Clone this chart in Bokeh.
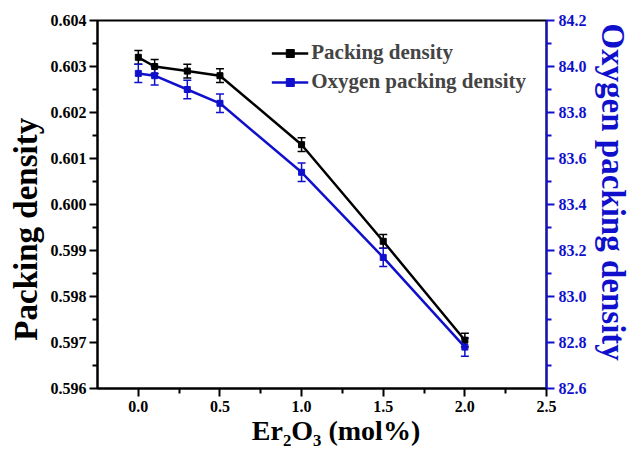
import numpy as np
from bokeh.plotting import figure
from bokeh.models import (Range1d, LinearAxis, FixedTicker, NumeralTickFormatter,
                          Whisker, ColumnDataSource, Legend, LegendItem, TeeHead)
from bokeh.embed import file_html
from bokeh.resources import INLINE

# Er2O3 content (mol%)
er2o3 = [0.0, 0.1, 0.3, 0.5, 1.0, 1.5, 2.0]
# packing density (left axis) and its error
packing = [0.6032, 0.6030, 0.6029, 0.6028, 0.6013, 0.5992, 0.59705]
packing_err = [0.00015, 0.00015, 0.00015, 0.00015, 0.00015, 0.00015, 0.00015]
# oxygen packing density (right axis) and its error
oxygen = [83.97, 83.96, 83.90, 83.84, 83.54, 83.17, 82.78]
oxygen_err = [0.04, 0.04, 0.04, 0.04, 0.04, 0.04, 0.04]

x_ticks = [0.0, 0.5, 1.0, 1.5, 2.0, 2.5]
left_ticks = [0.596, 0.597, 0.598, 0.599, 0.600, 0.601, 0.602, 0.603, 0.604]
right_ticks = [82.6, 82.8, 83.0, 83.2, 83.4, 83.6, 83.8, 84.0, 84.2]

FONT = "Liberation Serif"
BLACK = "#000000"
BLUE = "#1010CC"
NBSP = "\u00a0"


def midpoints(t):
    return [(a + b) / 2 for a, b in zip(t[:-1], t[1:])]


p = figure(width=633, height=450, output_backend="svg", toolbar_location=None,
           x_range=Range1d(-0.25, 2.5), y_range=Range1d(0.596, 0.604),
           min_border_left=97, min_border_right=86, min_border_top=20,
           min_border_bottom=62)
p.extra_y_ranges = {"oxy": Range1d(82.6, 84.2)}
p.grid.visible = False
p.outline_line_color = BLACK
p.outline_line_width = 2
p.background_fill_color = "white"
p.border_fill_color = "white"


def style_axis(ax, color, label_size):
    ax.axis_line_color = color
    ax.axis_line_width = 2
    ax.major_tick_line_color = color
    ax.major_tick_line_width = 2
    ax.minor_tick_line_color = color
    ax.minor_tick_line_width = 2
    ax.major_tick_in = 0
    ax.major_tick_out = 8
    ax.minor_tick_in = 0
    ax.minor_tick_out = 5
    ax.major_label_text_font = FONT
    ax.major_label_text_font_style = "bold"
    ax.major_label_text_font_size = "16px"
    ax.major_label_text_color = color
    ax.axis_label_text_font = FONT
    ax.axis_label_text_font_style = "bold"
    ax.axis_label_text_font_size = label_size
    ax.axis_label_text_color = color


# bottom axis
xax = p.xaxis[0]
style_axis(xax, BLACK, "28px")
xax.ticker = FixedTicker(ticks=x_ticks, minor_ticks=midpoints(x_ticks))
xax.formatter = NumeralTickFormatter(format="0.0")
xax.axis_label = NBSP * 4 + "Er\u2082O\u2083 (mol%)"
xax.major_label_standoff = 4
xax.axis_label_standoff = 0

# left axis
yax = p.yaxis[0]
style_axis(yax, BLACK, "33px")
yax.ticker = FixedTicker(ticks=left_ticks, minor_ticks=midpoints(left_ticks))
yax.formatter = NumeralTickFormatter(format="0.000")
yax.axis_label = "Packing density" + NBSP * 6
yax.major_label_standoff = 3
yax.axis_label_standoff = 4

# right axis for oxygen packing density
rax = LinearAxis(y_range_name="oxy")
style_axis(rax, BLUE, "33px")
rax.ticker = FixedTicker(ticks=right_ticks, minor_ticks=midpoints(right_ticks))
rax.formatter = NumeralTickFormatter(format="0.0")
rax.axis_label = "Oxygen packing density" + NBSP * 3
rax.major_label_standoff = 4
rax.axis_label_standoff = 5
p.add_layout(rax, "right")

src_p = ColumnDataSource(dict(
    x=er2o3, y=packing,
    lo=[v - e for v, e in zip(packing, packing_err)],
    hi=[v + e for v, e in zip(packing, packing_err)]))
src_o = ColumnDataSource(dict(
    x=er2o3, y=oxygen,
    lo=[v - e for v, e in zip(oxygen, oxygen_err)],
    hi=[v + e for v, e in zip(oxygen, oxygen_err)]))

l1 = p.line("x", "y", source=src_p, line_color=BLACK, line_width=2.5)
s1 = p.scatter("x", "y", source=src_p, marker="square", size=6,
               fill_color=BLACK, line_color=BLACK)
p.add_layout(Whisker(source=src_p, base="x", lower="lo", upper="hi",
                     dimension="height", line_color=BLACK, line_width=1.5,
                     upper_head=TeeHead(size=8, line_color=BLACK, line_width=1.5),
                     lower_head=TeeHead(size=8, line_color=BLACK, line_width=1.5)))

l2 = p.line("x", "y", source=src_o, y_range_name="oxy", line_color=BLUE, line_width=2.5)
s2 = p.scatter("x", "y", source=src_o, y_range_name="oxy", marker="square", size=6,
               fill_color=BLUE, line_color=BLUE)
p.add_layout(Whisker(source=src_o, base="x", lower="lo", upper="hi",
                     dimension="height", y_range_name="oxy",
                     line_color=BLUE, line_width=1.5,
                     upper_head=TeeHead(size=8, line_color=BLUE, line_width=1.5),
                     lower_head=TeeHead(size=8, line_color=BLUE, line_width=1.5)))

legend = Legend(items=[LegendItem(label="Packing density", renderers=[l1, s1]),
                       LegendItem(label="Oxygen packing density", renderers=[l2, s2])],
                location="top_right", border_line_color=None,
                background_fill_alpha=0,
                label_text_font=FONT, label_text_font_style="bold",
                label_text_font_size="21px", glyph_width=37, glyph_height=20,
                label_standoff=3, spacing=4, padding=10, margin=20)
p.add_layout(legend)

open("out.html", "w").write(file_html(p, INLINE))
